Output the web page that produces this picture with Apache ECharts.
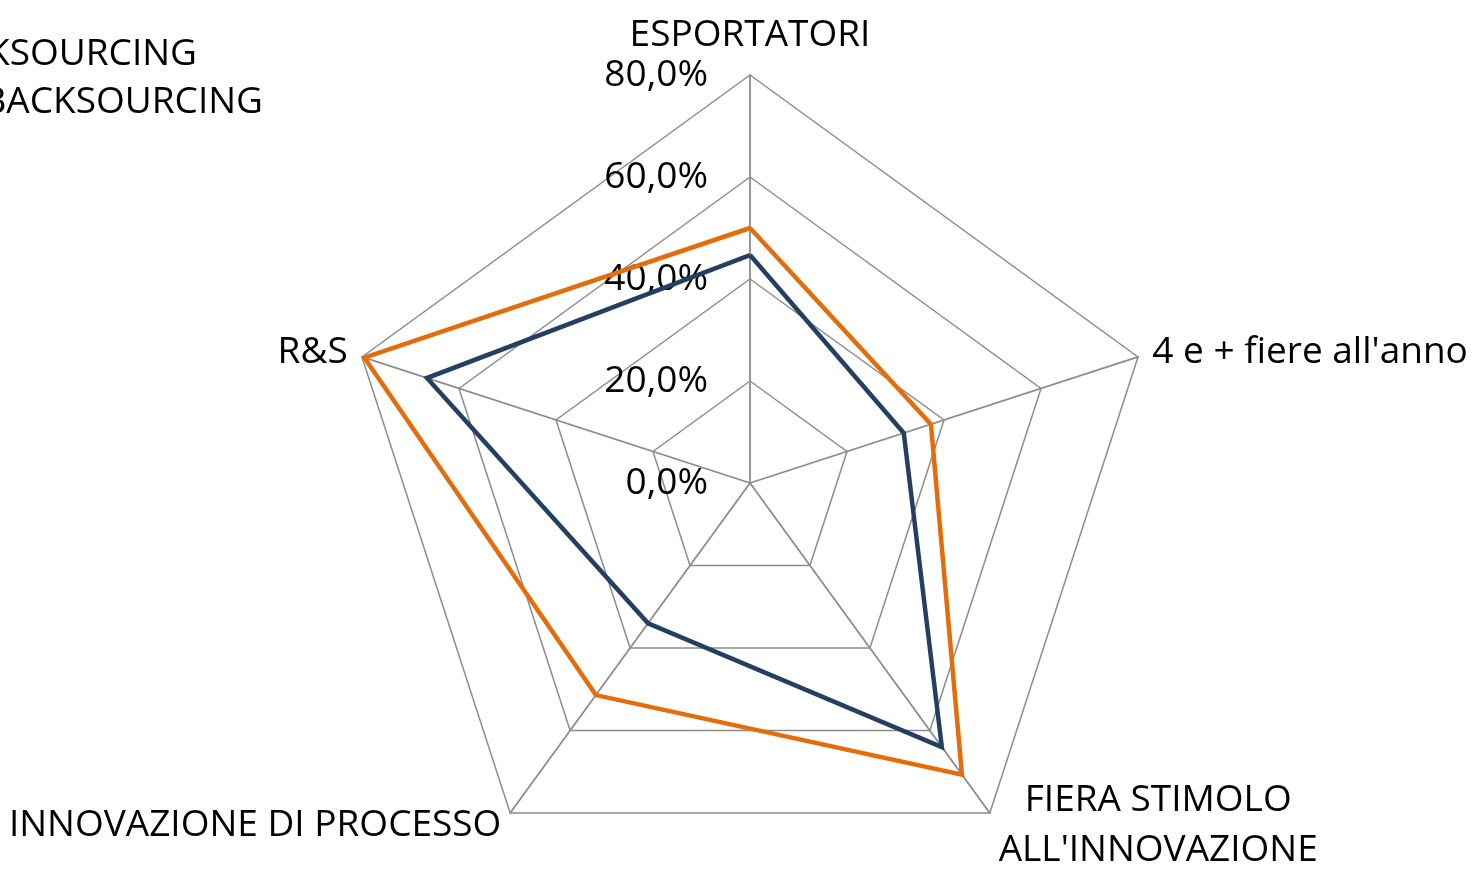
<!DOCTYPE html>
<html><head><meta charset="utf-8">
<script src="https://cdn.jsdelivr.net/npm/echarts@6/dist/echarts.min.js"></script>
<style>html,body{margin:0;padding:0;background:#fff}#c{width:1480px;height:869px}</style>
</head><body><div id="c"></div>
<script>
const categories = ["ESPORTATORI", "4 e + fiere all'anno", "FIERA STIMOLO\nALL'INNOVAZIONE", "INNOVAZIONE DI PROCESSO", "R&S"];
const seriesNames = ["SENZA BACKSOURCING", "CON BACKSOURCING"];
const navyValues = [44.7, 31.7, 64.0, 34.0, 66.6];
const orangeValues = [50.0, 37.3, 70.7, 51.4, 79.5];
const axisMax = 80;
const tickCount = 4;

// ECharts radar runs counter-clockwise; reorder to run clockwise like the reference
const order = [0, 4, 3, 2, 1];
const pick = arr => order.map(i => arr[i]);

const font = "'Open Sans', sans-serif";
const fs = 37;
const chart = echarts.init(document.getElementById('c'), null, {renderer: 'canvas'});
chart.setOption({
  animation: false,
  backgroundColor: '#fff',
  legend: [
    {data: [seriesNames[0]], right: 1480 - 202, top: 31, itemWidth: 30, itemHeight: 4, icon: 'rect',
     textStyle: {fontFamily: font, fontSize: fs, color: '#000'}},
    {data: [seriesNames[1]], right: 1480 - 268, top: 79, itemWidth: 30, itemHeight: 4, icon: 'rect',
     textStyle: {fontFamily: font, fontSize: fs, color: '#000'}}
  ],
  radar: {
    center: [750, 483],
    radius: 408,
    startAngle: 90,
    shape: 'polygon',
    splitNumber: tickCount,
    indicator: pick(categories).map((n, k) => ({
      name: n, max: axisMax, min: 0,
      axisLabel: k === 0 ? {show: true} : {show: false}
    })),
    axisName: {
      color: '#000', fontFamily: font, fontSize: fs,
      formatter: v => v.split('\n').map(s => '{c|' + s + '}').join('\n'),
      rich: {c: {align: 'center', fontFamily: font, fontSize: fs, color: '#000', lineHeight: 50}}
    },
    nameGap: 15,
    splitArea: {show: false},
    splitLine: {lineStyle: {color: '#8c8c8c', width: 1.5}},
    axisLine: {lineStyle: {color: '#8c8c8c', width: 1.8}},
    axisTick: {show: false},
    axisLabel: {
      show: true, showMinLabel: true, showMaxLabel: true, margin: 42,
      color: '#000', fontFamily: font, fontSize: fs, padding: [6, 0, 0, 0],
      formatter: v => v.toFixed(1).replace('.', ',') + '%'
    }
  },
  series: [{
    type: 'radar',
    symbol: 'none',
    data: [
      {name: seriesNames[0], value: pick(navyValues), lineStyle: {color: '#243F60', width: 4.5, join: 'miter'}, itemStyle: {color: '#243F60'}},
      {name: seriesNames[1], value: pick(orangeValues), lineStyle: {color: '#E46C0A', width: 4.5, join: 'miter'}, itemStyle: {color: '#E46C0A'}}
    ]
  }]
});
</script></body></html>
